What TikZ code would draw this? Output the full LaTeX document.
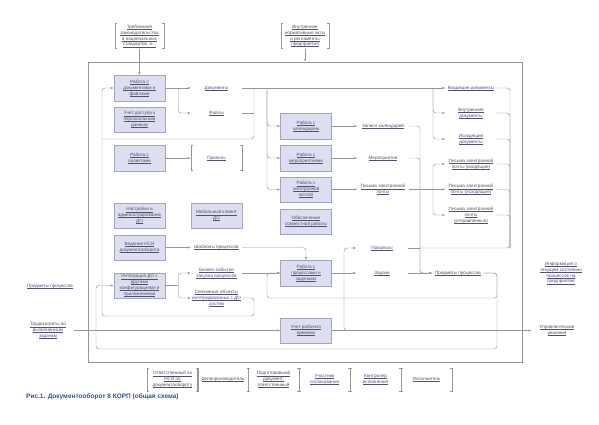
\documentclass[tikz,border=0pt]{standalone}
\usepackage{fontspec}
\setmainfont{Liberation Sans}
\usetikzlibrary{arrows.meta}
\definecolor{ln}{RGB}{150,150,150}
\definecolor{bxf}{RGB}{221,222,240}
\definecolor{bxd}{RGB}{165,165,195}
\definecolor{tx}{RGB}{80,80,110}
\definecolor{capc}{RGB}{45,80,160}
\newcommand\ulx[1]{\setbox0\hbox{#1}\rlap{\raisebox{-0.9pt}{\color{tx}\rule{\wd0}{0.22pt}}}\box0}
\newcommand\brk[1]{\draw[wire] ([xshift=2pt]#1.north west) -- (#1.north west) -- (#1.south west) -- ([xshift=2pt]#1.south west) ([xshift=-2pt]#1.north east) -- (#1.north east) -- (#1.south east) -- ([xshift=-2pt]#1.south east);}
\tikzset{
  txt/.style={font=\fontsize{4.6}{5.8}\selectfont, text=tx, align=center, inner sep=0pt},
  box/.style={txt, draw=bxd, fill=bxf, line width=0.5pt, minimum width=51pt, minimum height=25.5pt},
  lbl/.style={txt, minimum width=51pt, minimum height=25pt},
  wire/.style={draw=ln, line width=0.45pt},
  warr/.style={wire, -{Latex[length=3pt,width=2.2pt]}},
  rc/.style={rounded corners=3pt}
}
\begin{document}
\begin{tikzpicture}[x=1pt,y=-1pt]
\fill[white] (0,0) rectangle (599,424);
\useasboundingbox (0,0) rectangle (599,424);
% frame
\node[wire, minimum width=434pt, minimum height=300pt, inner sep=0pt] (frame) at (305,212) {};
% boxes
\node[box] (docs) at (139.5,88) {\ulx{Работа с}\\\ulx{документами и}\\\ulx{файлами}};
\node[box] (access) at (139.5,119.5) {\ulx{Учет доступа к}\\\ulx{персональным}\\\ulx{данным}};
\node[box] (proj) at (139.5,158) {\ulx{Работа с}\\\ulx{проектами}};
\node[box] (settings) at (139.5,215.5) {\ulx{Настройки и}\\\ulx{администрирование}\\\ulx{ДО}};
\node[box] (nsi) at (139.5,247.5) {\ulx{Ведение НСИ}\\\ulx{документооборота}};
\node[box] (integ) at (139.5,285.5) {\ulx{Интеграция ДО с}\\\ulx{другими}\\\ulx{конфигурациями и}\\\ulx{приложениями}};
\node[box] (mobile) at (216.5,215.5) {\ulx{Мобильный клиент}\\\ulx{ДО}};
\node[box] (collab) at (306,221.5) {\ulx{Обеспечение}\\\ulx{совместной работы}};
\node[box] (cal) at (306,126) {\ulx{Работа с}\\\ulx{календарем}};
\node[box] (events) at (306,158) {\ulx{Работа с}\\\ulx{мероприятиями}};
\node[box] (mail) at (306,189.5) {\ulx{Работа с}\\\ulx{электронной}\\\ulx{почтой}};
\node[box] (procbox) at (306,273) {\ulx{Работа с}\\\ulx{процессами и}\\\ulx{задачами}};
\node[box] (time) at (306,330.5) {\ulx{Учет рабочего}\\\ulx{времени}};
% labels
\node[lbl, minimum width=49pt] (tReq) at (139.5,36) {\ulx{Требования}\\\ulx{законодательства}\\\ulx{и национальных}\\\ulx{стандартов, в...}};
\node[lbl, minimum width=48pt] (tNorm) at (305,36) {\ulx{Внутренние}\\\ulx{нормативные акты}\\\ulx{и регламенты}\\\ulx{предприятия}};
\node[lbl] (tDocs) at (216.5,88) {\ulx{Документы}};
\node[lbl] (tFiles) at (216.5,113) {\ulx{Файлы}};
\node[lbl] (tProj) at (216.5,158) {\ulx{Проекты}};
\node[lbl] (tTpl) at (216.5,247.5) {\ulx{Шаблоны процессов}};
\node[lbl] (tBiz) at (216.5,273) {\ulx{Бизнес-события}\\\ulx{запуска процессов}};
\node[lbl] (tLinked) at (216.5,298) {\ulx{Связанные объекты}\\\ulx{интегрированных с ДО}\\\ulx{систем}};
\node[lbl] (tCalRec) at (383,126) {\ulx{Записи календарей}};
\node[lbl] (tMeet) at (383,158) {\ulx{Мероприятия}};
\node[lbl] (tLetters) at (383,189.5) {\ulx{Письма электронной}\\\ulx{почты}};
\node[lbl] (tIn) at (471,88) {\ulx{Входящие документы}};
\node[lbl] (tInt) at (471,113) {\ulx{Внутренние}\\\ulx{документы}};
\node[lbl] (tOut) at (471,139) {\ulx{Исходящие}\\\ulx{документы}};
\node[lbl] (tMIn) at (471,164) {\ulx{Письма электронной}\\\ulx{почты (входящие)}};
\node[lbl] (tMOut) at (471,189.5) {\ulx{Письма электронной}\\\ulx{почты (исходящие)}};
\node[lbl] (tMSent) at (471,215) {\ulx{Письма электронной}\\\ulx{почты}\\\ulx{(отправленные)}};
\node[lbl] (tProc) at (382,248) {\ulx{Процессы}};
\node[lbl] (tTask) at (382,273) {\ulx{Задачи}};
\node[lbl] (tSubjR) at (458,273) {\ulx{Предметы процессов}};
\node[lbl] (tInfo) at (561,273) {\ulx{Информация о}\\\ulx{текущем состоянии}\\\ulx{процессов на}\\\ulx{предприятии}};
\node[lbl] (tMgmt) at (557,330.5) {\ulx{Управленческие}\\\ulx{решения}};
\node[lbl] (tLabor) at (48,330.5) {\ulx{Трудозатраты по}\\\ulx{выполненным}\\\ulx{задачам}};
\node[lbl] (tSubjL) at (50,286) {\ulx{Предметы процессов}};
% bottom mechanisms
\node[lbl, minimum height=23pt] (m1) at (172.5,379.5) {\ulx{Ответственный за}\\\ulx{НСИ по}\\\ulx{документообороту}};
\node[lbl, minimum height=23pt] (m2) at (223,379.5) {\ulx{Делопроизводитель}};
\node[lbl, minimum height=23pt] (m3) at (273.5,379.5) {\ulx{Подготовивший}\\\ulx{документ,}\\\ulx{ответственный}};
\node[lbl, minimum height=23pt] (m4) at (324.5,379.5) {\ulx{Участник}\\\ulx{согласования}};
\node[lbl, minimum height=23pt] (m5) at (375.5,379.5) {\ulx{Контролер}\\\ulx{исполнения}};
\node[lbl, minimum height=23pt] (m6) at (426.5,379.5) {\ulx{Исполнитель}};
\brk{tReq}\brk{tNorm}\brk{tProj}
\brk{m1}\brk{m2}\brk{m3}\brk{m4}\brk{m5}\brk{m6}
% caption
\node[anchor=west, inner sep=0pt, font=\fontsize{6.5}{8}\selectfont\bfseries, text=capc] (cap) at (26,397) {Рис.1. Документооборот 8 КОРП (общая схема)};
% junctions
\coordinate (jA) at (433,88);
\coordinate (jB) at (254,88);
\coordinate (jC) at (267,88);
\coordinate (jD) at (420,273);
\coordinate (jE) at (433,189.5);
\coordinate (jF) at (510,248);
\coordinate (jG) at (344,273);
\coordinate (jJ) at (254,316);
\coordinate (jK) at (102,139);
\coordinate (jL) at (102,316);
\coordinate (jM) at (96,349);
\coordinate (jN) at (497,298);
\coordinate (jP) at (267,298);
\coordinate (jQ) at (356,330.5);
\coordinate (jR) at (497,349);
% connectors
\draw[warr] (tReq) -- (docs);
\draw[warr] (tNorm) -- (tNorm |- frame.north);
\draw[warr] (docs) -- (tDocs);
\draw[warr, rc] (docs.east) ++(13,0) |- (tFiles.west);
\draw[warr] (tDocs) -- (tIn);
\draw[wire] (tFiles.east) -- (tFiles.east -| jB);
\draw[wire, rc] (jB) |- (jK);
\draw[warr, rc] (tLinked.east) -| (jJ) -- (jL) |- (docs.west);
\draw[warr, rc] (jC) |- (cal.west);
\draw[warr, rc] (jC) |- (events.west);
\draw[warr, rc] (jC) |- (mail.west);
\draw[warr, rc] (jA) |- (tInt.west);
\draw[warr, rc] (jA) |- (tOut.west);
\draw[warr] (proj) -- (tProj);
\draw[warr] (nsi) -- (tTpl);
\draw[warr, rc] (tTpl.east) -| (procbox.north);
\draw[wire] (integ.east) -- ++(13,0);
\draw[warr, rc] (integ.east) ++(13,0) |- (tBiz.west);
\draw[warr, rc] (integ.east) ++(13,0) |- (tLinked.west);
\draw[warr] (tBiz) -- (procbox);
\draw[warr] (cal) -- (tCalRec);
\draw[warr] (events) -- (tMeet);
\draw[warr] (mail) -- (tLetters);
\draw[warr, rc] (tCalRec.east) -| (jD) -- (tSubjR.west);
\draw[wire, rc] (tMeet.east) -| (jD);
\draw[wire] (tLetters.east) -- (jE);
\draw[warr, rc] (jE) |- (tMIn.west);
\draw[warr] (jE) -- (tMOut.west);
\draw[warr, rc] (jE) |- (tMSent.west);
\draw[wire, rc] (tIn.east) -| (jF) -- (jF -| jD);
\draw[wire, rc] (tInt.east) -| (jF);
\draw[wire, rc] (tOut.east) -| (jF);
\draw[wire, rc] (tMIn.east) -| (jF);
\draw[wire, rc] (tMOut.east) -| (jF);
\draw[wire, rc] (tMSent.east) -| (jF);
\draw[wire] (tProc.east) -- (tProc.east -| jD);
\draw[warr] (tTask) -- (tSubjR);
\draw[warr] (procbox) -- (tTask);
\draw[warr, rc] (jG) |- (tProc.west);
\draw[wire, rc] (jG) |- (jQ);
\draw[warr, rc] (tSubjR.east) -| (jN) -- (jP) |- (procbox.west);
\draw[warr, rc] (tSubjR.east) -| (jR) -- (jM) |- (integ.west);
\draw[warr] (tLabor) -- (time);
\draw[warr] (time) -- (tMgmt);
\end{tikzpicture}
\end{document}
